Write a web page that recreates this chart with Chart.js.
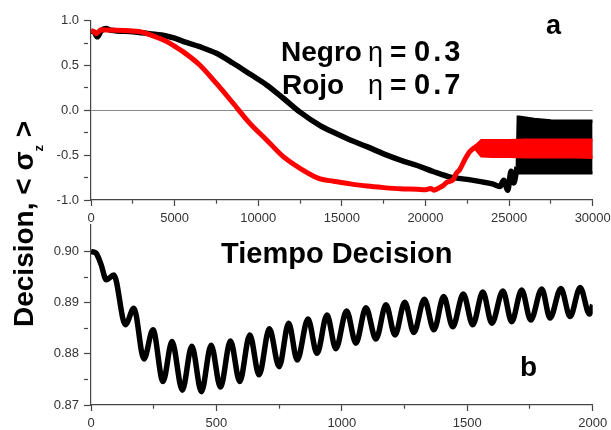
<!DOCTYPE html>
<html>
<head>
<meta charset="utf-8">
<script src="https://cdn.jsdelivr.net/npm/chart.js@4.4.1/dist/chart.umd.min.js"></script>
<style>
  html, body { margin: 0; padding: 0; background: #fff; }
  #page { position: relative; width: 611px; height: 430px; overflow: hidden; font-family: "Liberation Sans", Arial, sans-serif; }
  canvas { position: absolute; left: 0; }
  .txt { position: absolute; font-weight: bold; color: #000; line-height: 1; white-space: nowrap; }
</style>
</head>
<body>
<div id="page">
  <canvas id="chartA" width="611" height="232" style="top:0;width:611px;height:232px"></canvas>
  <canvas id="chartB" width="611" height="225" style="top:205px;width:611px;height:225px"></canvas>

  <div class="txt" style="left:546px;top:12px;font-size:27px">a</div>
  <div class="txt" style="left:281px;top:38px;font-size:28px">Negro</div>
  <div class="txt" style="left:368px;top:39px;font-size:27px;font-weight:normal">&eta;</div>
  <div class="txt" style="left:390px;top:38px;font-size:28px">=</div>
  <div class="txt" style="left:414px;top:37px;font-size:29px;letter-spacing:3px">0.3</div>
  <div class="txt" style="left:282px;top:71px;font-size:28px">Rojo</div>
  <div class="txt" style="left:368px;top:72px;font-size:27px;font-weight:normal">&eta;</div>
  <div class="txt" style="left:390px;top:71px;font-size:28px">=</div>
  <div class="txt" style="left:414px;top:70px;font-size:29px;letter-spacing:3px">0.7</div>
  <div class="txt" style="left:221px;top:239px;font-size:29px">Tiempo Decision</div>
  <div class="txt" style="left:520px;top:353px;font-size:28px">b</div>
  <div class="txt" style="left:10px;top:327px;font-size:28px;transform-origin:0 0;transform:rotate(-90deg)">Decision, &lt; &sigma;<span style="font-size:13px;vertical-align:-10px">z</span> &gt;</div>
</div>

<script>
// panel a: black curve (eta = 0.3)
const negroT = [0, 200, 380, 600, 900, 1200, 2500, 3500, 4500, 5000, 5500, 6500, 7500, 8500, 9500, 10500, 11500, 12500, 13700, 14500, 15500, 16500, 17500, 18500, 19500, 20500, 21500, 22500, 23300, 24000, 24450, 24680, 24920, 25120, 25280, 25480];
const negroV = [0.885, 0.87, 0.82, 0.885, 0.912, 0.893, 0.878, 0.855, 0.83, 0.805, 0.77, 0.71, 0.636, 0.525, 0.405, 0.283, 0.135, -0.02, -0.17, -0.245, -0.33, -0.405, -0.485, -0.555, -0.615, -0.685, -0.745, -0.77, -0.795, -0.82, -0.85, -0.78, -0.89, -0.68, -0.81, -0.63];
// envelope of the fast oscillation at the end of the black curve
const negroBandT = [25480, 25540, 25600, 26500, 27500, 28500, 29500, 30000];
const negroBandHigh = [-0.63, -0.075, -0.075, -0.10, -0.115, -0.12, -0.12, -0.12];
const negroBandLow = [-0.63, -0.70, -0.70, -0.70, -0.70, -0.70, -0.70, -0.70];

// panel a: red curve (eta = 0.7)
const rojoT = [0, 150, 300, 450, 600, 1000, 2000, 3000, 3500, 4000, 4500, 5000, 5500, 6500, 7500, 8500, 9500, 10500, 11500, 12500, 13700, 14500, 15500, 16500, 17500, 18500, 19500, 20000, 20300, 20500, 20800, 21050, 21300, 21650, 21850, 22050, 22350, 22650, 23050];
const rojoV = [0.89, 0.88, 0.855, 0.875, 0.9, 0.895, 0.89, 0.875, 0.845, 0.81, 0.77, 0.715, 0.655, 0.506, 0.30, 0.079, -0.145, -0.33, -0.517, -0.647, -0.765, -0.79, -0.82, -0.845, -0.862, -0.875, -0.88, -0.885, -0.872, -0.89, -0.865, -0.84, -0.80, -0.775, -0.70, -0.66, -0.55, -0.46, -0.40];
const rojoBandT = [22950, 23350, 24000, 25000, 26000, 27000, 28000, 29000, 30000];
const rojoBandHigh = [-0.405, -0.335, -0.335, -0.335, -0.33, -0.33, -0.33, -0.33, -0.33];
const rojoBandLow = [-0.42, -0.51, -0.515, -0.515, -0.52, -0.52, -0.52, -0.52, -0.525];

// panel b: zoom of the black curve at short times
const decT = [0, 20, 40, 61, 91, 137, 171, 211, 247, 287, 323, 364, 402, 440, 479, 516, 556, 593, 633, 670, 711, 750, 788, 822, 865, 901, 941, 976, 1019, 1056, 1096, 1136, 1176, 1212, 1251, 1287, 1329, 1367, 1406, 1442, 1484, 1522, 1562, 1598, 1642, 1677, 1717, 1753, 1797, 1830, 1873, 1910, 1950, 1987, 2000];
const decV = [0.9, 0.8997, 0.8975, 0.8945, 0.8954, 0.8857, 0.8889, 0.879, 0.8847, 0.8746, 0.8824, 0.8729, 0.8815, 0.8726, 0.8817, 0.8735, 0.8825, 0.8746, 0.8837, 0.8759, 0.8849, 0.8775, 0.886, 0.8788, 0.8868, 0.8801, 0.8876, 0.881, 0.8884, 0.8821, 0.889, 0.8829, 0.8896, 0.8837, 0.8901, 0.8842, 0.8907, 0.8847, 0.8912, 0.8853, 0.8917, 0.8857, 0.8921, 0.886, 0.8923, 0.8863, 0.8925, 0.8866, 0.8927, 0.887, 0.8928, 0.8873, 0.893, 0.8878, 0.8896];

// ticks (major + minor)
const topXTicks = [0, 2500, 5000, 7500, 10000, 12500, 15000, 17500, 20000, 22500, 25000, 27500, 30000];
const topYTicks = [-1, -0.75, -0.5, -0.25, 0, 0.25, 0.5, 0.75, 1];
const botXTicks = [0, 250, 500, 750, 1000, 1250, 1500, 1750, 2000];
const botYTicks = [0.87, 0.875, 0.88, 0.885, 0.89, 0.895, 0.9];

const tickFont = { family: '"Liberation Sans", Arial, sans-serif', size: 13 };
const tickColor = '#333';
const axisColor = '#444';

function pts (xs, ys) {
  return xs.map((x, i) => ({x: x, y: ys[i]}));
}

function isMajor (v, step) {
  return Math.abs(v / step - Math.round(v / step)) < 1e-6;
}

function xScale (min, max, ticks, step, height) {
  return {
    type: 'linear',
    min: min,
    max: max,
    afterBuildTicks: s => { s.ticks = ticks.map(v => ({value: v})); },
    afterFit: s => { s.height = height; s.paddingLeft = 0; s.paddingRight = 0; },
    border: { color: axisColor, width: 1.2 },
    grid: {
      drawOnChartArea: false,
      tickLength: 6,
      tickColor: axisColor,
      tickWidth: 1.2,
      tickBorderDash: c => (c.tick && !isMajor(c.tick.value, step)) ? [3.5, 40] : []
    },
    ticks: {
      autoSkip: false,
      maxRotation: 0,
      padding: 5,
      font: tickFont,
      color: tickColor,
      callback: v => isMajor(v, step) ? String(v) : ''
    }
  };
}

function yScale (min, max, ticks, step, digits, zeroLine) {
  return {
    type: 'linear',
    min: min,
    max: max,
    afterBuildTicks: s => { s.ticks = ticks.map(v => ({value: v})); },
    afterFit: s => { s.width = 91; s.paddingTop = 0; s.paddingBottom = 0; },
    border: { color: axisColor, width: 1.2 },
    grid: {
      drawOnChartArea: zeroLine,
      color: c => (zeroLine && c.tick && Math.abs(c.tick.value) < 1e-9) ? '#8a8a8a' : 'rgba(0,0,0,0)',
      lineWidth: 1,
      tickLength: 7,
      tickColor: axisColor,
      tickWidth: 1.2,
      tickBorderDash: c => (c.tick && !isMajor(c.tick.value, step)) ? [4, 40] : []
    },
    ticks: {
      autoSkip: false,
      padding: 5,
      font: tickFont,
      color: tickColor,
      callback: v => isMajor(v, step) ? v.toFixed(digits) : ''
    }
  };
}

const lineBase = { pointRadius: 0, pointHoverRadius: 0, fill: false };

new Chart(document.getElementById('chartA'), {
  type: 'line',
  data: {
    datasets: [
      Object.assign({}, lineBase, { label: 'Rojo', data: pts(rojoT, rojoV), borderColor: '#ff0000', borderWidth: 5, cubicInterpolationMode: 'monotone', order: 1 }),
      Object.assign({}, lineBase, { label: 'Rojo max', data: pts(rojoBandT, rojoBandHigh), borderColor: '#ff0000', borderWidth: 3, tension: 0, order: 1 }),
      Object.assign({}, lineBase, { label: 'Rojo min', data: pts(rojoBandT, rojoBandLow), borderColor: '#ff0000', backgroundColor: '#ff0000', borderWidth: 3, tension: 0, fill: '-1', order: 1 }),
      Object.assign({}, lineBase, { label: 'Negro', data: pts(negroT, negroV), borderColor: '#000', borderWidth: 5.5, cubicInterpolationMode: 'monotone', order: 2 }),
      Object.assign({}, lineBase, { label: 'Negro max', data: pts(negroBandT, negroBandHigh), borderColor: '#000', borderWidth: 3, tension: 0, order: 2 }),
      Object.assign({}, lineBase, { label: 'Negro min', data: pts(negroBandT, negroBandLow), borderColor: '#000', backgroundColor: '#000', borderWidth: 3, tension: 0, fill: '-1', order: 2 })
    ]
  },
  options: {
    responsive: false,
    animation: false,
    layout: { padding: { left: 0, right: 18.3, top: 20.7, bottom: 0 } },
    plugins: { legend: { display: false }, tooltip: { enabled: false } },
    scales: {
      x: xScale(0, 30000, topXTicks, 5000, 32),
      y: yScale(-1, 1, topYTicks, 0.5, 1, true)
    }
  }
});

new Chart(document.getElementById('chartB'), {
  type: 'line',
  data: {
    datasets: [
      Object.assign({}, lineBase, { label: 'Negro', data: pts(decT, decV), borderColor: '#000', borderWidth: 5.5, cubicInterpolationMode: 'monotone' })
    ]
  },
  options: {
    responsive: false,
    animation: false,
    layout: { padding: { left: 0, right: 18.3, top: 20, bottom: 0 } },
    plugins: { legend: { display: false }, tooltip: { enabled: false } },
    scales: {
      x: xScale(0, 2000, botXTicks, 500, 25),
      y: yScale(0.87, 0.9052, botYTicks, 0.01, 2, false)
    }
  }
});
</script>
</body>
</html>
